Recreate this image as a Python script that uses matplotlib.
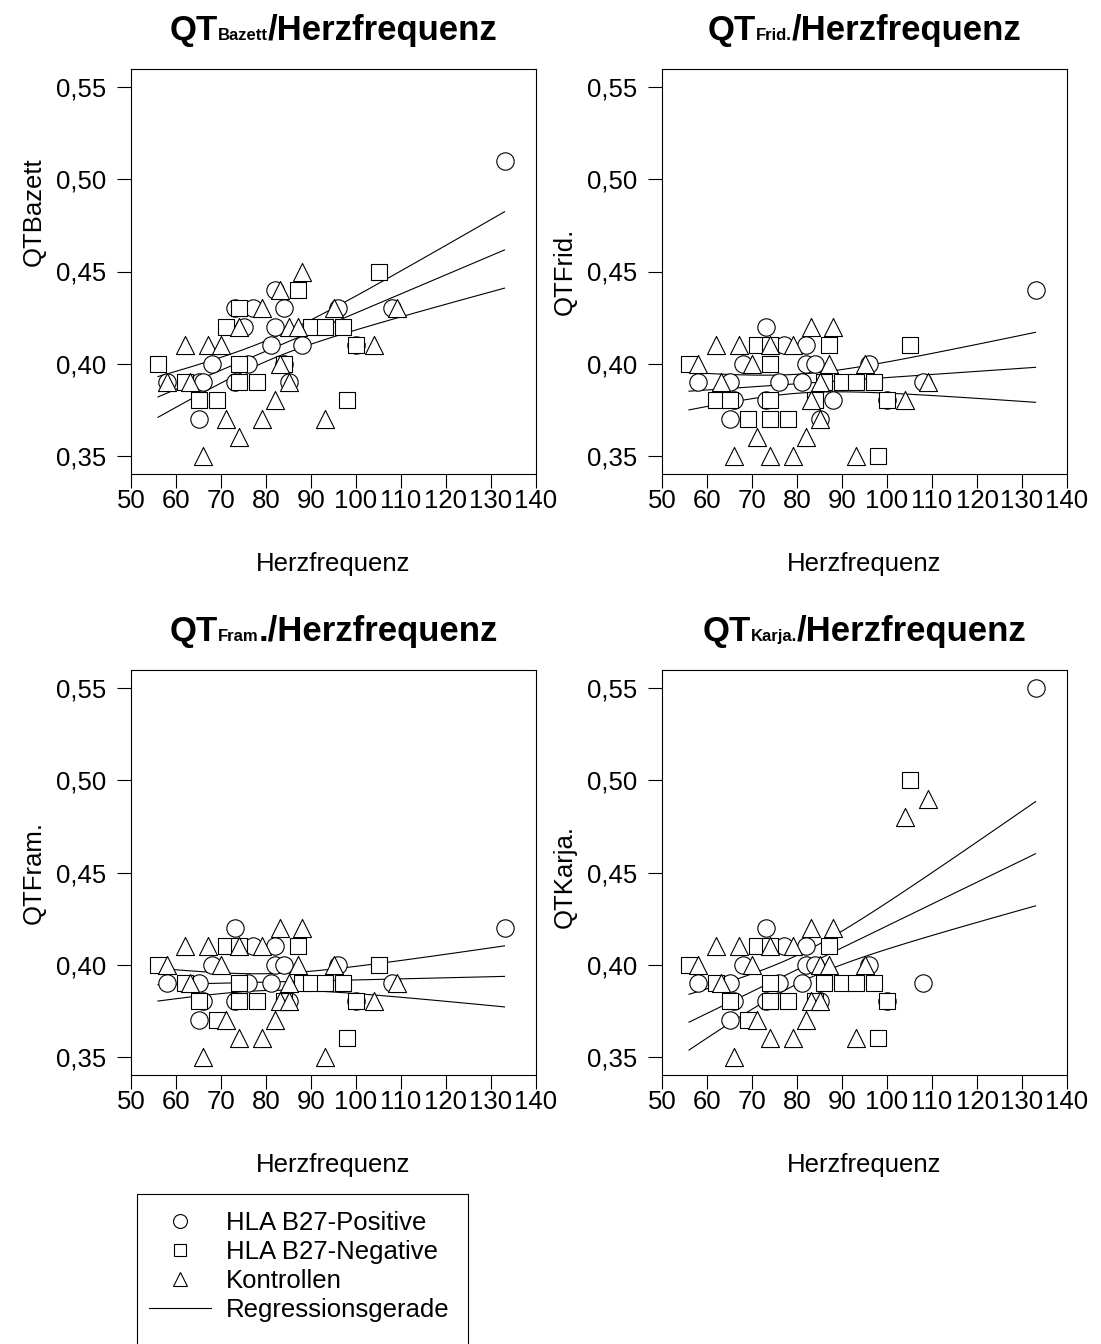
import numpy as np
import matplotlib.pyplot as plt
from matplotlib.lines import Line2D
from matplotlib.patches import Rectangle
from matplotlib.offsetbox import TextArea, HPacker, AnchoredOffsetbox
from matplotlib.ticker import FuncFormatter

plt.rcParams['font.family'] = ['Liberation Sans', 'DejaVu Sans']

# --- data (x = Herzfrequenz, y = QT in s) ---
# QT Bazett
baz_pos_x = [133, 82, 73, 77, 84, 96, 108, 75, 82, 81, 88, 100, 68, 76, 84, 58, 65, 66, 73, 85, 65]
baz_pos_y = [.51, .44, .43, .43, .43, .43, .43, .42, .42, .41, .41, .41, .40, .40, .40, .39, .39, .39, .39, .39, .37]
baz_neg_x = [105, 87, 74, 71, 90, 93, 97, 100, 56, 74, 84, 62, 74, 78, 65, 69, 98]
baz_neg_y = [.45, .44, .43, .42, .42, .42, .42, .41, .40, .40, .40, .39, .39, .39, .38, .38, .38]
baz_con_x = [88, 83, 79, 95, 109, 74, 85, 87, 62, 67, 70, 104, 83, 58, 63, 85, 82, 71, 79, 93, 74, 66]
baz_con_y = [.45, .44, .43, .43, .43, .42, .42, .42, .41, .41, .41, .41, .40, .39, .39, .39, .38, .37, .37, .37, .36, .35]

# QT Fridericia
frid_pos_x = [73, 77, 82, 68, 82, 84, 96, 58, 65, 76, 81, 108, 66, 73, 88, 100, 65, 85, 133]
frid_pos_y = [.42, .41, .41, .40, .40, .40, .40, .39, .39, .39, .39, .39, .38, .38, .38, .38, .37, .37, .44]
frid_neg_x = [71, 74, 87, 105, 56, 74, 86, 90, 93, 97, 62, 65, 74, 84, 100, 69, 74, 78, 98]
frid_neg_y = [.41, .41, .41, .41, .40, .40, .39, .39, .39, .39, .38, .38, .38, .38, .38, .37, .37, .37, .35]
frid_con_x = [83, 88, 62, 67, 74, 79, 58, 70, 87, 95, 63, 85, 109, 83, 104, 85, 71, 82, 66, 74, 79, 93]
frid_con_y = [.42, .42, .41, .41, .41, .41, .40, .40, .40, .40, .39, .39, .39, .38, .38, .37, .36, .36, .35, .35, .35, .35]

# QT Framingham
fram_pos_x = [73, 77, 82, 68, 82, 84, 96, 58, 65, 76, 81, 108, 66, 73, 85, 100, 65, 133]
fram_pos_y = [.42, .41, .41, .40, .40, .40, .40, .39, .39, .39, .39, .39, .38, .38, .38, .38, .37, .42]
fram_neg_x = [71, 74, 87, 56, 105, 62, 74, 88, 90, 93, 97, 65, 74, 78, 84, 100, 69, 98]
fram_neg_y = [.41, .41, .41, .40, .40, .39, .39, .39, .39, .39, .39, .38, .38, .38, .38, .38, .37, .36]
fram_con_x = [83, 88, 62, 67, 74, 79, 58, 70, 87, 95, 63, 85, 109, 83, 85, 104, 71, 82, 74, 79, 66, 93]
fram_con_y = [.42, .42, .41, .41, .41, .41, .40, .40, .40, .40, .39, .39, .39, .38, .38, .38, .37, .37, .36, .36, .35, .35]

# QT Karjalainen
karja_pos_x = [73, 77, 82, 68, 82, 84, 96, 58, 65, 76, 81, 108, 66, 73, 85, 100, 65, 133]
karja_pos_y = [.42, .41, .41, .40, .40, .40, .40, .39, .39, .39, .39, .39, .38, .38, .38, .38, .37, .55]
karja_neg_x = [71, 74, 87, 56, 62, 74, 86, 90, 93, 97, 65, 74, 78, 84, 100, 69, 98, 105]
karja_neg_y = [.41, .41, .41, .40, .39, .39, .39, .39, .39, .39, .38, .38, .38, .38, .38, .37, .36, .50]
karja_con_x = [83, 88, 62, 67, 74, 79, 58, 70, 85, 87, 95, 63, 83, 85, 71, 82, 74, 79, 93, 66, 104, 109]
karja_con_y = [.42, .42, .41, .41, .41, .41, .40, .40, .40, .40, .40, .39, .38, .38, .37, .37, .36, .36, .36, .35, .48, .49]

titles_sub = ['Bazett', 'Frid.', 'Fram', 'Karja.']
titles_tail = ['/Herzfrequenz', '/Herzfrequenz', './Herzfrequenz', '/Herzfrequenz']
ylabels = ['QTBazett', 'QTFrid.', 'QTFram.', 'QTKarja.']
ylabel_pos = [0.647, 0.5, 0.5, 0.49]
xticks = [50, 60, 70, 80, 90, 100, 110, 120, 130, 140]
yticks = [0.35, 0.40, 0.45, 0.50, 0.55]
legend_labels = ['HLA B27-Positive', 'HLA B27-Negative', 'Kontrollen', 'Regressionsgerade']

panels = [
    (baz_pos_x, baz_pos_y, baz_neg_x, baz_neg_y, baz_con_x, baz_con_y),
    (frid_pos_x, frid_pos_y, frid_neg_x, frid_neg_y, frid_con_x, frid_con_y),
    (fram_pos_x, fram_pos_y, fram_neg_x, fram_neg_y, fram_con_x, fram_con_y),
    (karja_pos_x, karja_pos_y, karja_neg_x, karja_neg_y, karja_con_x, karja_con_y),
]

W, H = 1101, 1344
FS = 18.5
fig = plt.figure(figsize=(W / 100, H / 100), dpi=100)

# axes boxes in pixels: left, top
boxes = [(131, 69), (662, 69), (131, 670), (662, 670)]
size = 405


def regression(x, y, t=2.0):
    x = np.asarray(x, float)
    y = np.asarray(y, float)
    n = len(x)
    b, a = np.polyfit(x, y, 1)
    resid = y - (a + b * x)
    s = np.sqrt(np.sum(resid ** 2) / (n - 2))
    sxx = np.sum((x - x.mean()) ** 2)
    xs = np.linspace(x.min(), x.max(), 100)
    yhat = a + b * xs
    half = t * s * np.sqrt(1 / n + (xs - x.mean()) ** 2 / sxx)
    return xs, yhat, yhat - half, yhat + half


for i, (data, (lp, tp)) in enumerate(zip(panels, boxes)):
    px, py, nx, ny, cx, cy = data
    ax = fig.add_axes([lp / W, 1 - (tp + size) / H, size / W, size / H])

    allx = px + nx + cx
    ally = py + ny + cy
    xs, yhat, lo, hi = regression(allx, ally)
    for yy in (hi, yhat, lo):
        ax.plot(xs, yy, color='black', lw=0.8, zorder=1)

    mk = dict(facecolors='white', edgecolors='black', linewidths=0.8, zorder=2)
    ax.scatter(px, py, marker='o', s=12.5 ** 2, **mk)
    ax.scatter(nx, ny, marker='s', s=11 ** 2, **mk)
    ax.scatter(cx, cy, marker='^', s=13 ** 2, **mk)

    ax.set_xlim(50, 140)
    ax.set_ylim(0.34, 0.56)
    ax.set_xticks(xticks)
    ax.set_yticks(yticks)
    ax.yaxis.set_major_formatter(FuncFormatter(lambda v, p: f'{v:.2f}'.replace('.', ',')))
    ax.tick_params(axis='both', direction='out', length=10, width=0.8, labelsize=FS)
    ax.tick_params(axis='x', pad=1)
    ax.tick_params(axis='y', pad=8)
    for sp in ax.spines.values():
        sp.set_linewidth(0.8)

    ax.set_xlabel('Herzfrequenz', fontsize=FS)
    ax.xaxis.set_label_coords(0.5, -0.193)
    ax.set_ylabel(ylabels[i], fontsize=FS)
    ax.yaxis.set_label_coords(-0.21, ylabel_pos[i])

    title = HPacker(children=[
        TextArea('QT', textprops=dict(fontsize=25, fontweight='bold')),
        TextArea(titles_sub[i], textprops=dict(fontsize=12, fontweight='bold')),
        TextArea(titles_tail[i], textprops=dict(fontsize=25, fontweight='bold')),
    ], align='baseline', pad=0, sep=0)
    ab = AnchoredOffsetbox(loc='lower center', child=title, pad=0, borderpad=0,
                           bbox_to_anchor=(0.5, 1.055), bbox_transform=ax.transAxes,
                           frameon=False)
    ax.add_artist(ab)

# legend
mprops = dict(ls='none', mfc='white', mec='black', mew=0.8)
handles = [
    Line2D([], [], marker='o', ms=10, **mprops),
    Line2D([], [], marker='s', ms=9, **mprops),
    Line2D([], [], marker='^', ms=10, **mprops),
    Line2D([], [], color='black', lw=0.8),
]
fig.legend(handles, legend_labels, loc='upper left', frameon=False,
           bbox_to_anchor=(149 / W, 1 - 1211 / H), borderpad=0, borderaxespad=0,
           handlelength=2.4, handletextpad=0.6, labelspacing=0.2, fontsize=FS)
fig.patches.append(Rectangle((137 / W, -0.01), (468 - 137) / W, (H - 1194) / H + 0.01,
                             transform=fig.transFigure, fill=False, lw=0.8,
                             edgecolor='black'))

plt.savefig('out.png', dpi=100)
